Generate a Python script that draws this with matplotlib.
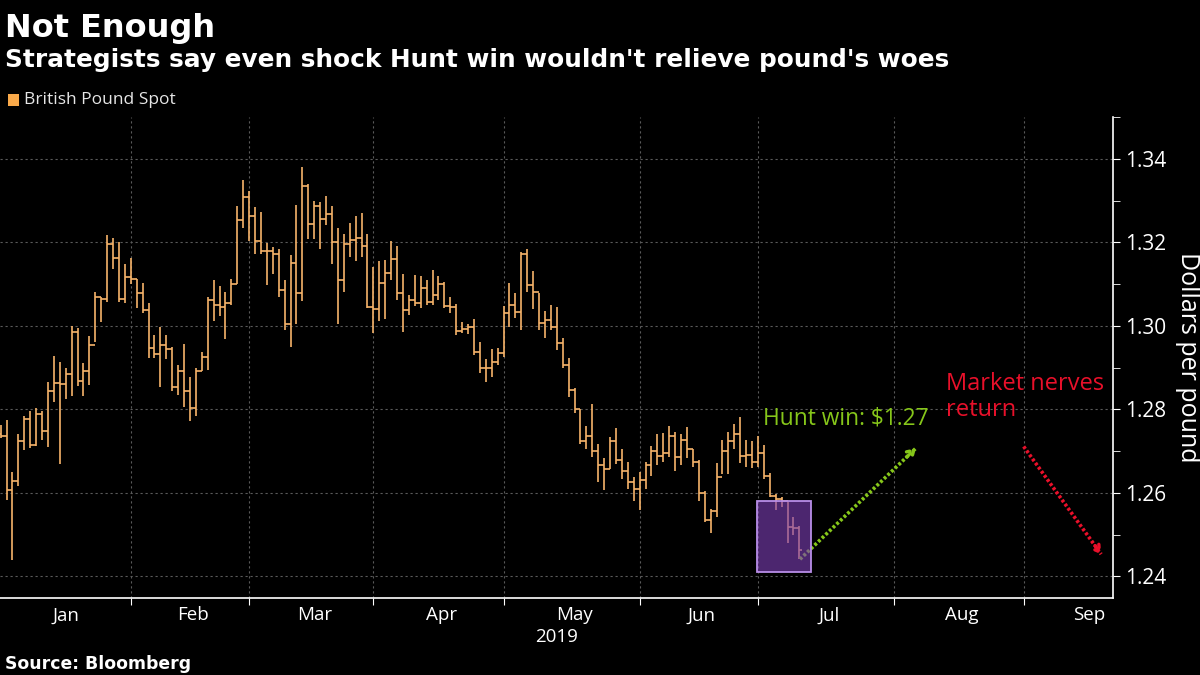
import numpy as np
import pandas as pd
import matplotlib
matplotlib.use("Agg")
import matplotlib.pyplot as plt
from matplotlib.patches import Rectangle
from matplotlib.transforms import blended_transform_factory

# GBP/USD daily bars, 2019-01-01 .. 2019-07-09 (weekdays)
first_open = 1.2740
highs = [1.2762, 1.2774, 1.2649, 1.2742, 1.2785, 1.2797, 1.2803, 1.2797, 1.2866, 1.2928,
         1.2914, 1.2899, 1.3000, 1.2994, 1.2910, 1.2975, 1.3082, 1.3070, 1.3217, 1.3211,
         1.3201, 1.3147, 1.3162, 1.3113, 1.3103, 1.3055, 1.2978, 1.2998, 1.2977, 1.2949,
         1.2906, 1.2957, 1.2878, 1.2899, 1.2938, 1.3070, 1.3109, 1.3095, 1.3080, 1.3113,
         1.3288, 1.3350, 1.3322, 1.3285, 1.3273, 1.3199, 1.3188, 1.3184, 1.3109, 1.3170,
         1.3289, 1.3381, 1.3340, 1.3300, 1.3297, 1.3311, 1.3287, 1.3235, 1.3221, 1.3246,
         1.3262, 1.3270, 1.3219, 1.3141, 1.3155, 1.3157, 1.3203, 1.3191, 1.3123, 1.3074,
         1.3121, 1.3119, 1.3109, 1.3133, 1.3119, 1.3106, 1.3068, 1.3053, 1.3009, 1.3004,
         1.3017, 1.2961, 1.2920, 1.2944, 1.2947, 1.3048, 1.3102, 1.3078, 1.3176, 1.3184,
         1.3132, 1.3079, 1.3036, 1.3049, 1.3044, 1.2970, 1.2923, 1.2852, 1.2800, 1.2759,
         1.2812, 1.2716, 1.2684, 1.2734, 1.2755, 1.2704, 1.2673, 1.2638, 1.2649, 1.2673,
         1.2713, 1.2740, 1.2743, 1.2761, 1.2745, 1.2741, 1.2757, 1.2706, 1.2679, 1.2605,
         1.2562, 1.2671, 1.2727, 1.2745, 1.2765, 1.2782, 1.2726, 1.2724, 1.2735, 1.2714,
         1.2648, 1.2597, 1.2589, 1.2577, 1.2542, 1.2521]
lows = [1.2731, 1.2582, 1.2439, 1.2617, 1.2703, 1.2707, 1.2711, 1.2727, 1.2710, 1.2818,
        1.2668, 1.2824, 1.2831, 1.2856, 1.2831, 1.2858, 1.2961, 1.3009, 1.3058, 1.3137,
        1.3056, 1.3055, 1.3100, 1.3043, 1.3031, 1.2924, 1.2924, 1.2854, 1.2920, 1.2844,
        1.2835, 1.2805, 1.2772, 1.2783, 1.2891, 1.2895, 1.3012, 1.3024, 1.2969, 1.3051,
        1.3099, 1.3234, 1.3202, 1.3173, 1.3173, 1.3098, 1.3123, 1.3070, 1.2991, 1.2949,
        1.3004, 1.3060, 1.3207, 1.3207, 1.3184, 1.3241, 1.3148, 1.3004, 1.3082, 1.3164,
        1.3156, 1.3164, 1.3043, 1.2982, 1.3012, 1.3016, 1.3110, 1.3063, 1.2986, 1.3027,
        1.3047, 1.3043, 1.3051, 1.3051, 1.3063, 1.3043, 1.3030, 1.2977, 1.2983, 1.2980,
        1.2930, 1.2887, 1.2866, 1.2877, 1.2906, 1.2926, 1.2996, 1.3019, 1.2990, 1.3082,
        1.3040, 1.2989, 1.2970, 1.2991, 1.2942, 1.2900, 1.2829, 1.2790, 1.2716, 1.2704,
        1.2686, 1.2626, 1.2606, 1.2657, 1.2669, 1.2634, 1.2610, 1.2581, 1.2560, 1.2610,
        1.2641, 1.2667, 1.2673, 1.2687, 1.2652, 1.2667, 1.2683, 1.2662, 1.2581, 1.2531,
        1.2503, 1.2542, 1.2644, 1.2644, 1.2706, 1.2671, 1.2663, 1.2659, 1.2663, 1.2632,
        1.2589, 1.2558, 1.2566, 1.2480, 1.2499, 1.2441]
closes = [1.2735, 1.2606, 1.2629, 1.2723, 1.2778, 1.2715, 1.2789, 1.2749, 1.2845, 1.2863,
          1.2860, 1.2885, 1.2985, 1.2867, 1.2892, 1.2955, 1.3070, 1.3064, 1.3195, 1.3162,
          1.3064, 1.3117, 1.3111, 1.3078, 1.3037, 1.2947, 1.2932, 1.2953, 1.2944, 1.2853,
          1.2892, 1.2844, 1.2803, 1.2891, 1.2925, 1.3063, 1.3051, 1.3045, 1.3055, 1.3099,
          1.3254, 1.3309, 1.3264, 1.3203, 1.3180, 1.3178, 1.3172, 1.3086, 1.3004, 1.3150,
          1.3078, 1.3335, 1.3244, 1.3288, 1.3256, 1.3268, 1.3200, 1.3110, 1.3195, 1.3205,
          1.3211, 1.3190, 1.3045, 1.3041, 1.3102, 1.3126, 1.3159, 1.3078, 1.3037, 1.3061,
          1.3055, 1.3090, 1.3057, 1.3074, 1.3099, 1.3048, 1.3045, 1.2988, 1.2992, 1.2996,
          1.2938, 1.2900, 1.2900, 1.2914, 1.2935, 1.3031, 1.3051, 1.3033, 1.3173, 1.3098,
          1.3080, 1.3007, 1.3015, 1.2998, 1.2958, 1.2907, 1.2846, 1.2800, 1.2724, 1.2735,
          1.2700, 1.2667, 1.2657, 1.2724, 1.2679, 1.2653, 1.2626, 1.2609, 1.2630, 1.2667,
          1.2699, 1.2688, 1.2695, 1.2735, 1.2687, 1.2726, 1.2704, 1.2675, 1.2599, 1.2534,
          1.2556, 1.2638, 1.2701, 1.2724, 1.2741, 1.2688, 1.2691, 1.2673, 1.2695, 1.2640,
          1.2593, 1.2585, 1.2581, 1.2519, 1.2515, 1.2464]

dates = pd.bdate_range("2019-01-01", periods=len(closes))
axis_days = pd.bdate_range("2019-01-01", "2019-09-30")
month_names = ["Jan", "Feb", "Mar", "Apr", "May", "Jun", "Jul", "Aug", "Sep"]
y_ticks = [1.24, 1.26, 1.28, 1.30, 1.32, 1.34]

hunt_target = 1.2707
nerves_start = 1.2711
nerves_target = 1.2453

ORANGE = "#f7b46a"
GREEN = "#86c61a"
RED = "#e8102a"
GRID = "#5a5a5a"

highs = np.array(highs)
lows = np.array(lows)
closes = np.array(closes)
opens = np.concatenate([[first_open], closes[:-1]])
x = np.arange(len(closes))

# month boundaries on a weekday axis
months = axis_days.month
month_ends = [i for i in range(len(axis_days) - 1) if months[i] != months[i + 1]]
month_mid = [np.mean(np.where(months == m)[0]) for m in range(1, 10)]

fig = plt.figure(figsize=(12, 6.75), dpi=100, facecolor="black")
ax = fig.add_axes([0, 0.114, 0.9275, 0.7126], facecolor="black")

ax.vlines(x, lows, highs, color=ORANGE, lw=1.2, zorder=3)
ax.hlines(opens, x - 0.5, x, color=ORANGE, lw=1.2, zorder=3)
ax.hlines(closes, x, x + 0.5, color=ORANGE, lw=1.2, zorder=3)

# highlighted recent slide
ax.add_patch(Rectangle((127.9, 1.2411), 9.0, 0.0169, facecolor="#7c3fb4", alpha=0.62,
                       edgecolor="none", zorder=5))
ax.add_patch(Rectangle((127.9, 1.2411), 9.0, 0.0169, facecolor="none",
                       edgecolor="#b98ee8", lw=1.3, zorder=6))

def dotted_arrow(start, end, color):
    # dotted shaft
    ax.plot([start[0], end[0]], [start[1], end[1]], color=color, lw=2.6,
            linestyle=(0, (0.8, 0.6)), solid_capstyle="butt", zorder=4)
    # head only, drawn from a short stub near the tip
    stub = (end[0] - 0.08 * (end[0] - start[0]), end[1] - 0.08 * (end[1] - start[1]))
    ax.annotate("", xy=end, xytext=stub,
                arrowprops=dict(arrowstyle="->,head_length=0.45,head_width=0.28",
                                color=color, lw=2.4, linestyle=":",
                                shrinkA=0, shrinkB=0), zorder=4)

dotted_arrow((x[-1] + 0.1, lows[-1]), (154.7, hunt_target), GREEN)
dotted_arrow((172.9, nerves_start), (186.0, nerves_target), RED)

ax.text(128.8, 1.2763, "Hunt win: $1.27", color=GREEN, fontsize=16.4,
        family="Open Sans", va="baseline")
ax.text(159.7, 1.2847, "Market nerves", color=RED, fontsize=17,
        family="Open Sans", va="baseline")
ax.text(159.7, 1.2783, "return", color=RED, fontsize=17,
        family="Open Sans", va="baseline")

ax.set_xlim(-0.1, 188)
ax.set_ylim(1.2348, 1.3476)

ax.set_xticks(month_ends)
ax.set_xticklabels([])
ax.set_xticks(month_mid, minor=True)
ax.set_xticklabels(month_names, minor=True)
ax.tick_params(axis="x", which="major", direction="out", length=5, color="white")
ax.tick_params(axis="x", which="minor", length=0, pad=6, labelsize=13.5,
               labelcolor="white")
for lab in ax.get_xticklabels(minor=True):
    lab.set_family("Open Sans")

ax.yaxis.tick_right()
ax.yaxis.set_label_position("right")
ax.set_yticks(y_ticks)
ax.set_yticklabels(["%.2f" % v for v in y_ticks])
ax.set_yticks(np.arange(1.25, 1.35, 0.02), minor=True)
ax.tick_params(axis="y", which="both", direction="out", length=5, color="white",
               labelsize=15, labelcolor="white", pad=4)
for lab in ax.get_yticklabels():
    lab.set_family("Open Sans")
ax.set_ylabel("Dollars per pound", color="white", fontsize=18, family="Open Sans",
              rotation=270, labelpad=24)

ax.grid(True, which="major", color=GRID, linestyle=(0, (2, 2.5)), lw=0.8)
for s in ["top", "left"]:
    ax.spines[s].set_visible(False)
for s in ["bottom", "right"]:
    ax.spines[s].set_color("white")
    ax.spines[s].set_linewidth(1.2)

tr = blended_transform_factory(ax.transData, ax.transAxes)
ax.text((ax.get_xlim()[0] + ax.get_xlim()[1]) / 2, -0.062, "2019", transform=tr,
        ha="center", va="top", color="white", fontsize=13.5, family="Open Sans")

fig.text(5 / 1200, 1 - 37 / 675, "Not Enough", color="white", fontsize=23,
         fontweight="bold", va="baseline")
fig.text(5 / 1200, 1 - 67 / 675, "Strategists say even shock Hunt win wouldn't relieve pound's woes",
         color="white", fontsize=17.8, fontweight="bold", va="baseline")
fig.patches.append(Rectangle((8 / 1200, 1 - 106 / 675), 11 / 1200, 12 / 675,
                             transform=fig.transFigure, facecolor="#f9a94a",
                             edgecolor="none"))
fig.text(24 / 1200, 1 - 100 / 675, "British Pound Spot", color="#e6e6e6",
         fontsize=12.5, family="Open Sans", va="center")
fig.text(5 / 1200, 1 - 669 / 675, "Source: Bloomberg", color="white", fontsize=12.4,
         fontweight="bold", va="baseline")

fig.savefig("out.png", dpi=100, facecolor="black")
